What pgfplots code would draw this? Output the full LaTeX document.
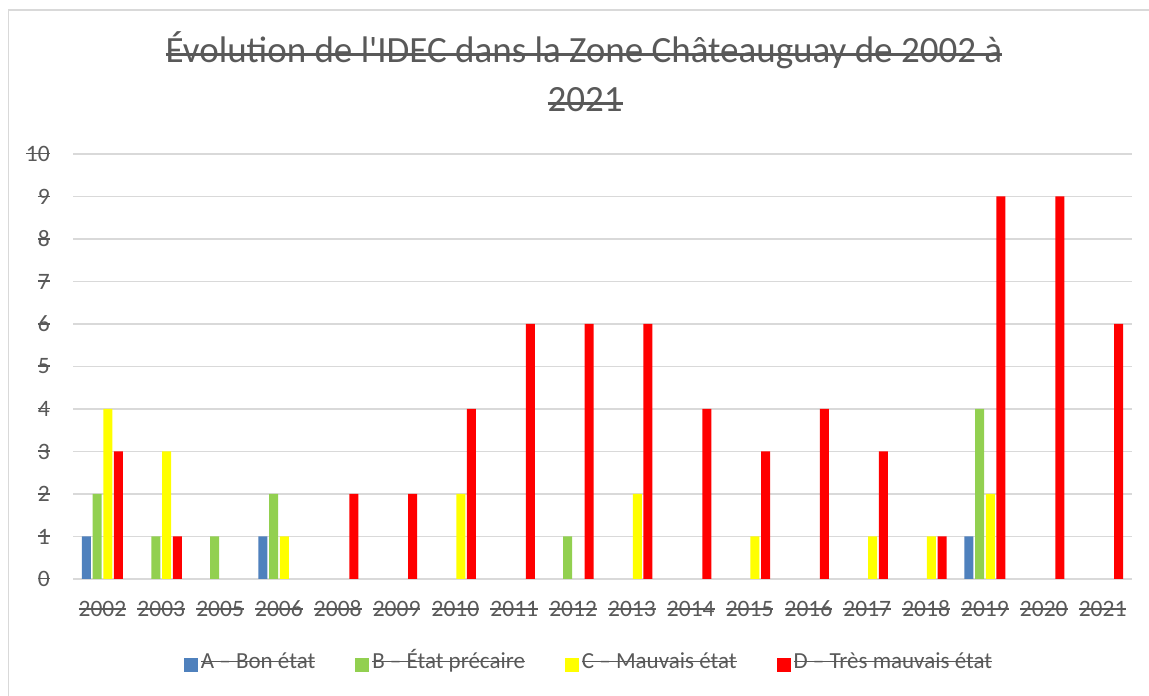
\documentclass[border=0pt]{standalone}
\usepackage{pgfplots}
\usepackage{pgfplotstable}
\pgfplotsset{compat=1.18}
\usepackage{fontspec}
\setmainfont{Carlito}[Ligatures=TeXOff]
\definecolor{txt}{HTML}{595959}
\definecolor{gridc}{HTML}{D9D9D9}
\definecolor{cA}{HTML}{4F81BD}
\definecolor{cB}{HTML}{92D050}
\definecolor{cC}{HTML}{FFFF00}
\definecolor{cD}{HTML}{FF0000}
\newsavebox\stbox
\newcommand\strike[2][0.25em]{\sbox\stbox{#2}\rlap{\usebox\stbox}\rule[#1]{\wd\stbox}{0.065em}}
\pgfplotsset{sqlegend/.style={legend image code/.code={\path[##1,draw=none] (0pt,-7pt) rectangle (14pt,7pt);}}}
\pgfplotstableread{
x A B C D
0 1 2 4 3
1 nan 1 3 1
2 nan 1 nan nan
3 1 2 1 nan
4 nan nan nan 2
5 nan nan nan 2
6 nan nan 2 4
7 nan nan nan 6
8 nan 1 nan 6
9 nan nan 2 6
10 nan nan nan 4
11 nan nan 1 3
12 nan nan nan 4
13 nan nan 1 3
14 nan nan 1 1
15 1 4 2 9
16 nan nan nan 9
17 nan nan nan 6
}\data
\begin{document}
\begin{tikzpicture}
\useasboundingbox (0,0) rectangle (1149pt,696pt);
\clip (0,0) rectangle (1149pt,696pt);
\fill[white] (0,0) rectangle (1149pt,696pt);
\draw[gridc, line width=1.3pt] (8.5pt,686pt) rectangle (1175pt,-20pt);
\node[txt, font=\fontsize{37}{44}\selectfont, anchor=base] at (584pt,633pt) {\strike[0.2em]{Évolution de l'IDEC dans la Zone Châteauguay de 2002 à}};
\node[txt, font=\fontsize{37}{44}\selectfont, anchor=base] at (585pt,584pt) {\strike[0.2em]{2021}};
\begin{axis}[
  at={(73pt,117pt)}, anchor=south west,
  scale only axis, width=1059pt, height=425pt,
  ybar=1.7pt, bar width=9pt,
  xmin=-0.5, xmax=17.5, ymin=0, ymax=10,
  xtick={0,...,17},
  xticklabels={{\strike[.3em]{2002}},{\strike[.3em]{2003}},{\strike[.3em]{2005}},{\strike[.3em]{2006}},{\strike[.3em]{2008}},{\strike[.3em]{2009}},{\strike[.3em]{2010}},{\strike[.3em]{2011}},{\strike[.3em]{2012}},{\strike[.3em]{2013}},{\strike[.3em]{2014}},{\strike[.3em]{2015}},{\strike[.3em]{2016}},{\strike[.3em]{2017}},{\strike[.3em]{2018}},{\strike[.3em]{2019}},{\strike[.3em]{2020}},{\strike[.3em]{2021}}},
  ytick={0,...,10},
  yticklabel={\strike[.3em]{\pgfmathprintnumber{\tick}}},
  /pgf/number format/assume math mode=true,
  ymajorgrids, grid style={gridc, line width=1.3pt},
  axis line style={draw=none},
  major tick length=0pt, tick style={draw=none},
  ticklabel style={txt, font=\fontsize{23.5}{28}\selectfont, inner sep=0pt},
  xticklabel style={anchor=base, yshift=-38pt},
  yticklabel style={anchor=east, xshift=-23pt},
  legend columns=4,
  legend style={draw=none, fill=none, at={(0.4877,-0.2012)}, anchor=center,
    font=\fontsize{23}{28}\selectfont, text=txt,
    /tikz/every even column/.append style={column sep=37pt},
    nodes={inner sep=3pt, text height=12pt, text depth=5pt}},
]
\addplot[fill=cA, draw=none, sqlegend] table[x=x,y=A] {\data};
\addlegendentry{\strike{A – Bon état}}
\addplot[fill=cB, draw=none, sqlegend] table[x=x,y=B] {\data};
\addlegendentry{\strike{B – État précaire}}
\addplot[fill=cC, draw=none, sqlegend] table[x=x,y=C] {\data};
\addlegendentry{\strike{C – Mauvais état}}
\addplot[fill=cD, draw=none, sqlegend] table[x=x,y=D] {\data};
\addlegendentry{\strike{D – Très mauvais état}}
\end{axis}
\end{tikzpicture}
\end{document}
